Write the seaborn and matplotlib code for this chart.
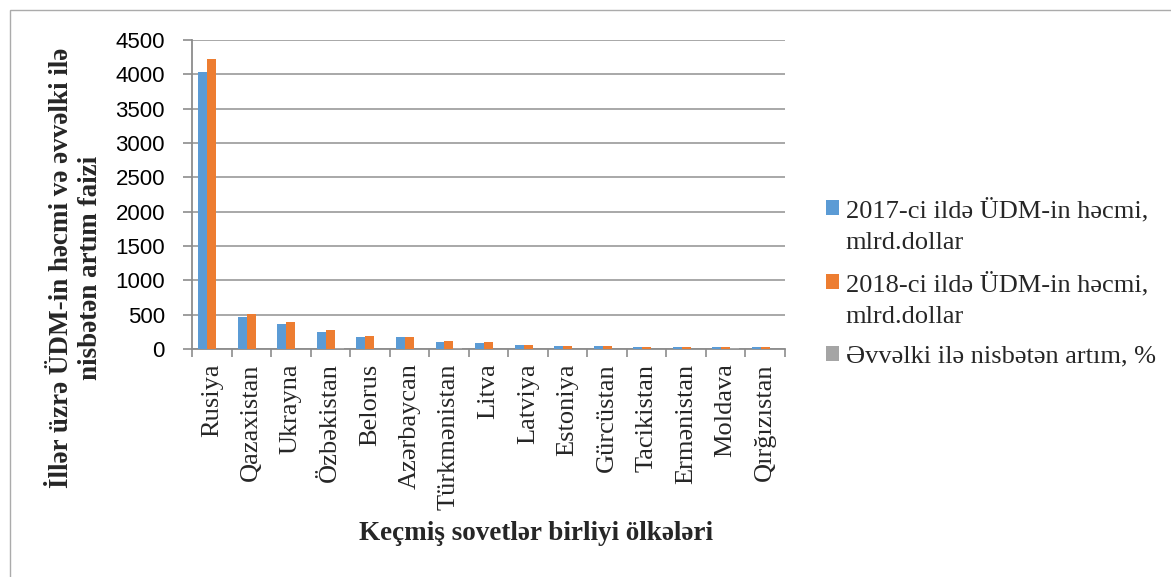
import numpy as np
import pandas as pd
import matplotlib
matplotlib.use('Agg')
import matplotlib.pyplot as plt
from matplotlib.patches import Rectangle
from matplotlib.legend_handler import HandlerPatch
import seaborn as sns

# Data
countries = ['Rusiya', 'Qazaxistan', 'Ukrayna', 'Özbəkistan', 'Belorus', 'Azərbaycan',
             'Türkmənistan', 'Litva', 'Latviya', 'Estoniya', 'Gürcüstan', 'Tacikistan',
             'Ermənistan', 'Moldava', 'Qırğızıstan']
gdp_2017 = [4030, 470, 365, 250, 178, 172, 104, 91, 54, 42, 39, 29, 28, 23, 23]
gdp_2018 = [4230, 505, 388, 272, 188, 176, 113, 95, 57, 45, 41, 31, 30, 25, 24]
growth_pct = [5, 7, 6, 9, 6, 3, 9, 5, 6, 7, 5, 7, 7, 9, 4]

series_names = ['2017-ci ildə ÜDM-in həcmi,\nmlrd.dollar',
                '2018-ci ildə ÜDM-in həcmi,\nmlrd.dollar',
                'Əvvəlki ilə nisbətən artım, %']
colors = ['#5B9BD5', '#ED7D31', '#A5A5A5']

df = pd.DataFrame({
    'country': countries * 3,
    'value': gdp_2017 + gdp_2018 + growth_pct,
    'series': [series_names[0]] * 15 + [series_names[1]] * 15 + [series_names[2]] * 15,
})


class TopAlignedPatch(HandlerPatch):
    """Square legend marker shifted up so it sits beside the first text line."""
    def __init__(self, dy=0.0):
        super().__init__()
        self.dy = dy

    def create_artists(self, legend, orig_handle, xdescent, ydescent, width, height,
                       fontsize, trans):
        p = Rectangle((-xdescent, -ydescent + self.dy), width, height,
                      facecolor=orig_handle.get_facecolor(), edgecolor='none',
                      transform=trans)
        return [p]


sns.set_theme(style='white')
serif = ['Liberation Serif', 'DejaVu Serif']
sans = ['Liberation Sans', 'DejaVu Sans']
plt.rcParams['font.family'] = serif

W, H = 1171, 577
fig = plt.figure(figsize=(W / 100, H / 100), dpi=100)
ax = fig.add_axes([192 / W, (H - 349) / H, 593 / W, 309 / H])

sns.barplot(data=df, x='country', y='value', hue='series', hue_order=series_names,
            palette=colors, width=0.68, gap=0, ax=ax, legend=True, saturation=1,
            linewidth=0)
for p in ax.patches:
    p.set_zorder(3)

grid_c = '#9a9a9a'
axis_c = '#8c8c8c'
ax.set_ylim(0, 4500)
ax.set_xlim(-0.5, len(countries) - 0.5)
ax.set_yticks(np.arange(0, 4501, 500))
ax.yaxis.grid(True, color=grid_c, linewidth=1.2)
ax.set_axisbelow(True)
for s in ['top', 'right']:
    ax.spines[s].set_visible(False)
for s in ['left', 'bottom']:
    ax.spines[s].set_color(axis_c)
    ax.spines[s].set_linewidth(1.3)
    ax.spines[s].set_zorder(2)

ax.tick_params(axis='y', which='major', left=True, length=6.5, width=1.2, color=axis_c,
               pad=13, labelsize=16, labelcolor='black')
for lab in ax.get_yticklabels():
    lab.set_family(sans)

ax.set_xticks(np.arange(-0.5, len(countries), 1), minor=True)
ax.tick_params(axis='x', which='minor', bottom=True, length=5.5, width=1.2, color=axis_c)
ax.tick_params(axis='x', which='major', bottom=True, length=0, pad=10.5)
ax.set_xticks(range(len(countries)))
ax.set_xticklabels(countries, rotation=90, ha='center', va='top', fontsize=19)

ax.set_xlabel('')
ax.set_ylabel('')

fig.text(536 / W, 1 - 533 / H, 'Keçmiş sovetlər birliyi ölkələri', ha='center', va='center',
         fontsize=19.5, fontweight='bold', family=serif)
fig.text(76 / W, 1 - 268 / H, 'İllər üzrə ÜDM-in həcmi və əvvəlki ilə\nnisbətən artım faizi',
         ha='center', va='center', rotation=90, multialignment='center',
         fontsize=19.5, fontweight='bold', family=serif, linespacing=1.2)

handles, labels = ax.get_legend_handles_labels()
ax.get_legend().remove()
shift = 12.5  # points, half a text line
leg = fig.legend(handles, labels, loc='upper left', bbox_to_anchor=(826 / W, 1 - 198 / H),
                 frameon=False, fontsize=19, handlelength=0.5, handleheight=0.5,
                 handletextpad=0.25, labelspacing=0.68, borderpad=0, borderaxespad=0,
                 handler_map={handles[0]: TopAlignedPatch(shift),
                              handles[1]: TopAlignedPatch(shift),
                              handles[2]: TopAlignedPatch(0)})
for t in leg.get_texts():
    t.set_linespacing(1.55)

# outer chart border
fig.patches.append(Rectangle((9.5 / W, -0.2), 2.0, 1.2 - 9.5 / H, transform=fig.transFigure,
                             fill=False, edgecolor='#ababab', linewidth=1.0))

fig.savefig('out.png', dpi=100)
